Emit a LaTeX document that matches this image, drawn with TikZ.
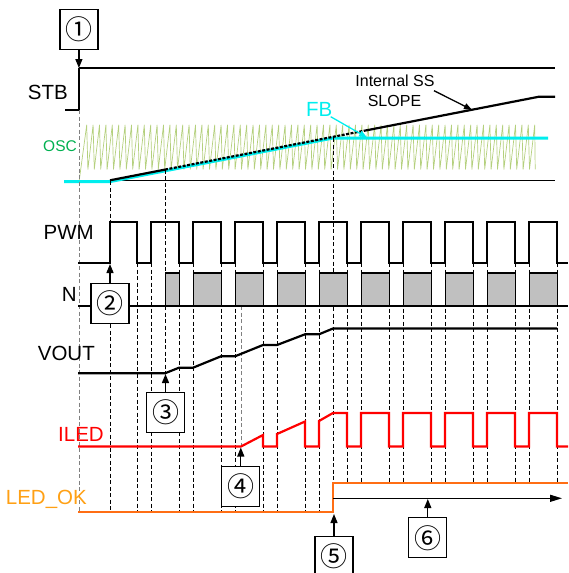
\documentclass[tikz,border=0pt]{standalone}
\usepackage{fontspec}
\setmainfont{Liberation Sans}
\newfontfamily\cjk{Noto Sans CJK JP}
\usetikzlibrary{arrows.meta}
\definecolor{cyanfb}{RGB}{0,238,238}
\definecolor{oscgreen}{RGB}{0,176,80}
\definecolor{sawgreen}{RGB}{180,208,125}
\definecolor{ledred}{RGB}{255,0,0}
\definecolor{oklabel}{RGB}{255,160,20}
\definecolor{okline}{RGB}{255,110,20}
\definecolor{nfill}{RGB}{192,192,192}
\begin{document}
\begin{tikzpicture}[x=1pt,y=-1pt,
  lbl/.style={font=\fontsize{20.5}{22}\selectfont, inner sep=0pt},
  smalllbl/.style={font=\fontsize{16}{18}\selectfont, inner sep=0pt},
  numbox/.style={draw, fill=white, line width=1.2pt, minimum width=38pt, minimum height=40pt, inner sep=0pt, font=\cjk\fontsize{27}{28}\selectfont},
  sig/.style={line width=2.2pt, line join=miter},
  thinln/.style={line width=1.3pt},
  vdash/.style={line width=0.9pt, dash pattern=on 4pt off 2.5pt},
  gdash/.style={vdash, draw=gray},
  tip/.style={-{Triangle[length=9pt,width=7pt]}, line width=1.3pt},
]
\useasboundingbox (0,0) rectangle (568,573);

% ---- OSC sawtooth ----
\draw[sawgreen, line width=0.7pt, line join=round]
  (79.3,180) -- (86.7,125)
  foreach \k in {0,...,69} { -- ({86.7+6.4*\k+1.2},169.3) -- ({86.7+6.4*(\k+1)},125) }
  -- (535.2,169.3);

% ---- reference lines ----
\draw[thinln] (65,180.3) -- (555,180.3);
\draw[thinln] (65,110) -- (79,110);
\draw[line width=2pt] (79,110) -- (79,68);
\draw[thinln] (79,68) -- (555,68);

% ---- FB (cyan) ----
\draw[cyanfb, line width=3pt] (64,181.6) -- (110,181.6) -- (333,138) -- (548,138);

% ---- Internal SS slope ----
\draw[line width=2.2pt] (110,180.3) -- (165,169.6);
\draw[line width=2.2pt, dash pattern=on 3pt off 1.5pt] (165,169.6) -- (364,130.8);
\draw[line width=2.2pt] (364,130.8) -- (539,96.7) -- (555,96.7);

% ---- vertical dashed guides ----
\foreach \x in {137,151,179,193,221,235,263,277,305,319}
  \draw[vdash] (\x,263) -- (\x,512);
\foreach \x in {347,361,389,403,431,445,473,487,515,529,557}
  \draw[vdash] (\x,263) -- (\x,483);
\draw[vdash] (110,181) -- (110,512);
\draw[vdash] (165,169.6) -- (165,373);
\draw[vdash] (333,138) -- (333,512);
\draw[gdash] (79,110) -- (79,512);
\draw[gdash] (241,306) -- (241,446);

% ---- PWM ----
\draw[sig] (78,263) -- (110,263) -- (110,222) -- (137,222) -- (137,263)
  foreach \k in {0,...,9} { -- ({151+42*\k},263) -- ({151+42*\k},222) -- ({179+42*\k},222) -- ({179+42*\k},263) }
  -- (568,263);

% ---- N ----
\draw[fill=nfill, line width=0.9pt] (165,306) rectangle (179,273);
\draw[line width=2.2pt] (165,273) -- (179,273);
\foreach \k in {0,...,8} {
  \draw[fill=nfill, line width=0.9pt] ({193+42*\k},306) rectangle ({221+42*\k},273);
  \draw[line width=2.2pt] ({193+42*\k},273) -- ({221+42*\k},273);
}
\draw[thinln] (78,306) -- (568,306);

% ---- VOUT ----
\draw[sig] (78,373.3) -- (165,373.3) -- (179,367.7) -- (193,367.7) -- (221,356.3)
  -- (235,356.3) -- (263,345) -- (277,345) -- (305,334.3) -- (319,334.3)
  -- (333,328.5) -- (557,328.5);

% ---- ILED ----
\draw[sig, ledred] (78,446.5) -- (241,446.5) -- (263,435) -- (263,446.5) -- (277,446.5)
  -- (277,434) -- (305,421.5) -- (305,446.5) -- (319,446.5) -- (319,421)
  -- (333,413) -- (347,413) -- (347,446.5)
  foreach \k in {0,...,4} { -- ({361+42*\k},446.5) -- ({361+42*\k},413) -- ({389+42*\k},413) -- ({389+42*\k},446.5) }
  -- (568,446.5);

% ---- LED_OK ----
\draw[okline, line width=2.5pt] (78,512) -- (333,512) -- (333,483) -- (568,483);

% ---- labels ----
\node[lbl, anchor=base east] (lstb) at (68,99) {STB};
\node[font=\fontsize{15.5}{16}\selectfont, inner sep=0pt, text=oscgreen, anchor=base east] (losc) at (77,151.7) {OSC};
\node[lbl, anchor=base east] (lpwm) at (94,239) {PWM};
\node[lbl, anchor=base east] (ln) at (77,301) {N};
\node[lbl, anchor=base east] (lvout) at (95,360) {VOUT};
\node[lbl, text=ledred, anchor=base east] (liled) at (104,441.7) {ILED};
\node[lbl, text=oklabel, anchor=base east] (lok) at (87,504) {LED\_OK};
\node[lbl, text=cyanfb, anchor=base west] (lfb) at (306,116.7) {FB};
\node[smalllbl, anchor=base] (ss1) at (395,86) {Internal SS};
\node[smalllbl, anchor=base] (ss2) at (394.5,106.7) {SLOPE};

% ---- annotation arrows ----
\coordinate (ssfrom) at (434,90.7);
\coordinate (ssto) at (472,109.8);
\draw[-{Triangle[length=8pt,width=6pt]}, line width=1.3pt] (ssfrom) -- (ssto);
\coordinate (fbfrom) at (330.7,116.7);
\coordinate (fbto) at (367,137.5);
\draw[cyanfb, -{Triangle[length=8pt,width=6pt]}, line width=1.3pt] (fbfrom) -- (fbto);

% ---- numbered boxes ----
\node[numbox] (b1) at (78.9,29.2) {①};
\node[numbox] (b2) at (110,303.2) {②};
\node[numbox] (b3) at (165.5,412.5) {③};
\node[numbox] (b4) at (240.8,486.7) {④};
\node[numbox] (b5) at (334,556.7) {⑤};
\node[numbox] (b6) at (427.8,537.8) {⑥};

\coordinate (t1) at (78.9,68);
\coordinate (t2) at (110,264);
\coordinate (t3) at (165.5,374);
\coordinate (t4) at (240.8,447.5);
\coordinate (t5) at (334,514);
\coordinate (t6) at (427.8,499);
\draw[tip] (b1) -- (t1);
\draw[tip] (b2) -- (t2);
\draw[tip] (b3) -- (t3);
\draw[tip] (b4) -- (t4);
\draw[tip] (b5) -- (t5);
\draw[tip] (b6) -- (t6);

% ---- LED_OK duration arrow ----
\coordinate (d0) at (333,498.3);
\coordinate (d1) at (562,498.3);
\draw[-{Triangle[length=12pt,width=7pt]}, line width=1.3pt] (d0) -- (d1);
\end{tikzpicture}
\end{document}
